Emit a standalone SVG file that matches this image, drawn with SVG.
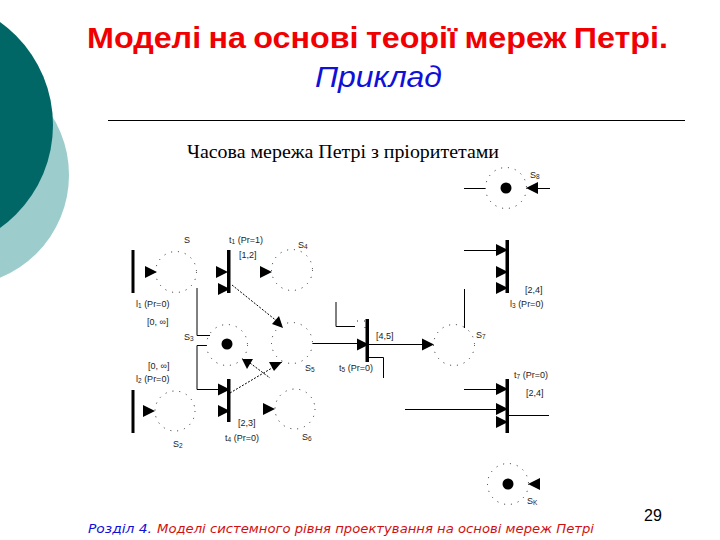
<svg xmlns="http://www.w3.org/2000/svg" width="720" height="540" viewBox="0 0 720 540">
<style>
.title{font:bold 30px "Liberation Sans",sans-serif;fill:#f00000;word-spacing:-1.500px}
.sub{font:italic 30px "Liberation Sans",sans-serif;fill:#1010d8}
.cap{font:18.500px "Liberation Serif",serif;fill:#000}
.foot{font:italic 12.500px "DejaVu Sans",sans-serif}
.num{font:16px "Liberation Sans",sans-serif;fill:#000}
.l{font:9px "Liberation Sans",sans-serif;fill:#222}
.s{font-size:6.500px}
.place{fill:none;stroke:#222;stroke-width:1;stroke-dasharray:1 6}
.bar{fill:#000}
.dot{fill:#000}
.c{fill:none;stroke:#000;stroke-width:1}
.d{fill:none;stroke:#000;stroke-width:1;stroke-dasharray:2 1.500}
.h{fill:#000}
</style>
<defs>
<path id="ar" class="h" d="M0-6L12 0L0 6Z"/>
<path id="al" class="h" d="M0 0L12-6L12 6Z"/>
</defs>
<g id="background">
<circle cx="-42" cy="175" r="111" fill="#9dcccc"/>
<circle cx="-73.500" cy="125" r="126.500" fill="#006666"/>
</g>
<g id="heading">
<text class="title" x="87" y="48" textLength="581" lengthAdjust="spacingAndGlyphs">Моделі на основі теорії мереж Петрі.</text>
<text class="sub" x="315" y="86.500" textLength="127" lengthAdjust="spacingAndGlyphs">Приклад</text>
<path d="M108 120.500H685" stroke="#000" stroke-width="1" fill="none"/>
<text class="cap" x="187" y="157.500" textLength="312" lengthAdjust="spacingAndGlyphs">Часова мережа Петрі з пріоритетами</text>
</g>
<g id="connectors">
<path class="c" d="M197 288V335.500H210M197 389.500V345.500H207"/>
<path class="c" d="M197 389.500H218"/>
<path class="d" d="M232 285L278 322M230 393L282 362M250 363L270 378"/>
<path class="c" d="M313 343.500H358M367 344.500H422M336 302V326.500H355M367 357.500H383.500V378M464.500 289V328M464 250.500H497M464 188.500H485M537 188.500H550M464 389.500H497M405 409.500H497M507 415.500H549"/>
<path class="place" d="M357 321H365V332"/>
<use href="#ar" x="145" y="272"/>
<use href="#ar" x="216" y="272"/>
<use href="#ar" x="218" y="289"/>
<use href="#ar" x="260" y="272"/>
<use href="#ar" x="143" y="411"/>
<use href="#ar" x="218" y="389.500"/>
<use href="#ar" x="218" y="411"/>
<use href="#ar" x="263" y="409"/>
<use href="#ar" x="357" y="344.500"/>
<use href="#ar" x="422" y="344.500"/>
<use href="#ar" x="496" y="250"/>
<use href="#ar" x="496" y="272"/>
<use href="#ar" x="496" y="288"/>
<use href="#ar" x="496" y="389"/>
<use href="#ar" x="496" y="409"/>
<use href="#ar" x="496" y="422"/>
<use href="#al" x="526" y="188"/>
<use href="#al" x="528" y="484"/>
<path class="h" d="M272 324L279 316L283 328Z"/>
<path class="h" d="M242 359L253 359L247 369Z"/>
<path class="h" d="M269 362L282 362L274 371Z"/>
</g>
<g id="S1"><circle class="place" cx="176" cy="272" r="20.500"/><text class="l" x="184" y="243">S</text></g>
<g id="S4"><circle class="place" cx="292" cy="270" r="20.500"/><text class="l" x="298" y="248">S<tspan class="s" dy="1">4</tspan></text></g>
<g id="S3"><circle class="place" cx="227" cy="345" r="20.500"/><circle class="dot" cx="227" cy="344" r="5.500"/><text class="l" x="184" y="340">S<tspan class="s" dy="1">3</tspan></text></g>
<g id="S5"><circle class="place" cx="292" cy="343" r="20.500"/><text class="l" x="305" y="371">S<tspan class="s" dy="1">5</tspan></text></g>
<g id="S2"><circle class="place" cx="175" cy="411" r="20"/><text class="l" x="173" y="447">S<tspan class="s" dy="1">2</tspan></text></g>
<g id="S6"><circle class="place" cx="295" cy="409" r="20"/><text class="l" x="302" y="440">S<tspan class="s" dy="1">6</tspan></text></g>
<g id="S7"><circle class="place" cx="454" cy="345" r="20.500"/><text class="l" x="476" y="338">S<tspan class="s" dy="1">7</tspan></text></g>
<g id="S8"><circle class="place" cx="506" cy="188" r="20.500"/><circle class="dot" cx="506" cy="188" r="5.500"/><text class="l" x="530" y="178">S<tspan class="s" dy="1">8</tspan></text></g>
<g id="Sk"><circle class="place" cx="508" cy="484" r="20.500"/><circle class="dot" cx="508" cy="484" r="5.500"/><text class="l" x="527" y="504">S<tspan class="s" dy="1">K</tspan></text></g>
<g id="T1"><rect class="bar" x="131.500" y="250" width="3" height="43"/><text class="l" x="136" y="307">l<tspan class="s" dy="1">1</tspan><tspan dy="-1"> (Pr=0)</tspan></text><text class="l" x="147" y="325">[0, ∞]</text></g>
<g id="T2"><rect class="bar" x="131.500" y="390" width="3" height="43"/><text class="l" x="136" y="382">l<tspan class="s" dy="1">2</tspan><tspan dy="-1"> (Pr=0)</tspan></text><text class="l" x="148" y="369">[0, ∞]</text></g>
<g id="t1"><rect class="bar" x="227" y="250" width="3.500" height="43"/><text class="l" x="229" y="243">t<tspan class="s" dy="1">1</tspan><tspan dy="-1"> (Pr=1)</tspan></text><text class="l" x="239" y="258">[1,2]</text></g>
<g id="t4"><rect class="bar" x="227" y="379" width="3.500" height="43"/><text class="l" x="238" y="426">[2,3]</text><text class="l" x="225" y="441">t<tspan class="s" dy="1">4</tspan><tspan dy="-1"> (Pr=0)</tspan></text></g>
<g id="t5"><rect class="bar" x="365.500" y="319" width="3.500" height="43"/><text class="l" x="376" y="339">[4,5]</text><text class="l" x="339" y="371">t<tspan class="s" dy="1">5</tspan><tspan dy="-1"> (Pr=0)</tspan></text></g>
<g id="t3"><rect class="bar" x="505.500" y="240" width="3.500" height="53"/><text class="l" x="525" y="293">[2,4]</text><text class="l" x="510" y="307">l<tspan class="s" dy="1">3</tspan><tspan dy="-1"> (Pr=0)</tspan></text></g>
<g id="t7"><rect class="bar" x="505.500" y="379" width="3.500" height="54"/><text class="l" x="514" y="378">t<tspan class="s" dy="1">7</tspan><tspan dy="-1"> (Pr=0)</tspan></text><text class="l" x="526" y="396">[2,4]</text></g>
<g id="footer">
<text class="foot" x="88" y="533" fill="#1010d8" textLength="64" lengthAdjust="spacingAndGlyphs">Розділ 4.</text>
<text class="foot" x="157" y="533" fill="#d01010" textLength="437" lengthAdjust="spacingAndGlyphs">Моделі системного рівня проектування на основі мереж Петрі</text>
<text class="num" x="644" y="521">29</text>
</g>
</svg>
